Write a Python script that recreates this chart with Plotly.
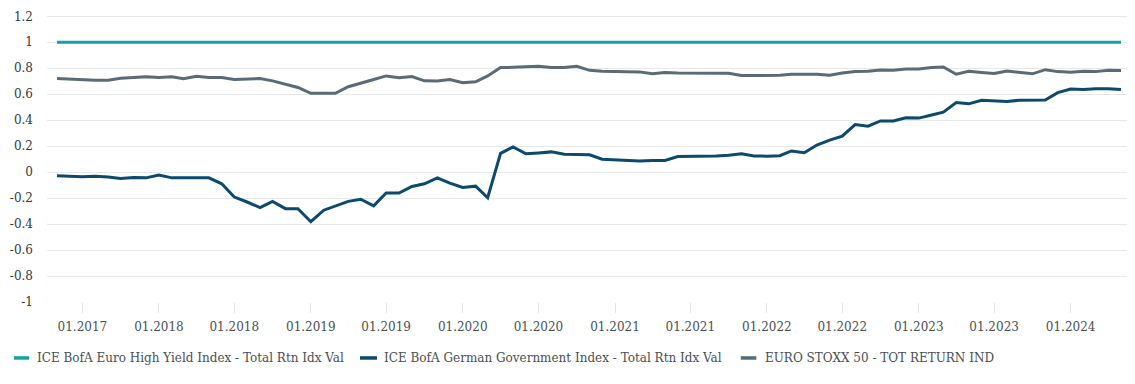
import plotly.graph_objects as go
import pandas as pd

# Monthly observations, May 2017 .. May 2024
dates = pd.date_range("2017-05-01", "2024-05-01", freq="MS")

high_yield = [
    1.0, 1.0, 1.0, 1.0, 1.0, 1.0, 1.0, 1.0, 1.0, 1.0,
    1.0, 1.0, 1.0, 1.0, 1.0, 1.0, 1.0, 1.0, 1.0, 1.0,
    1.0, 1.0, 1.0, 1.0, 1.0, 1.0, 1.0, 1.0, 1.0, 1.0,
    1.0, 1.0, 1.0, 1.0, 1.0, 1.0, 1.0, 1.0, 1.0, 1.0,
    1.0, 1.0, 1.0, 1.0, 1.0, 1.0, 1.0, 1.0, 1.0, 1.0,
    1.0, 1.0, 1.0, 1.0, 1.0, 1.0, 1.0, 1.0, 1.0, 1.0,
    1.0, 1.0, 1.0, 1.0, 1.0, 1.0, 1.0, 1.0, 1.0, 1.0,
    1.0, 1.0, 1.0, 1.0, 1.0, 1.0, 1.0, 1.0, 1.0, 1.0,
    1.0, 1.0, 1.0, 1.0, 1.0,
]

german_gov = [
    -0.027, -0.032, -0.035, -0.032, -0.037, -0.049, -0.042, -0.044, -0.022, -0.044,
    -0.044, -0.044, -0.044, -0.090, -0.192, -0.230, -0.273, -0.225, -0.281, -0.281,
    -0.382, -0.293, -0.263, -0.225, -0.209, -0.260, -0.161, -0.161, -0.110, -0.090,
    -0.045, -0.085, -0.118, -0.108, -0.197, 0.145, 0.194, 0.141, 0.148, 0.156,
    0.138, 0.133, 0.133, 0.100, 0.095, 0.095, 0.085, 0.090, 0.090, 0.120,
    0.120, 0.125, 0.125, 0.130, 0.141, 0.125, 0.123, 0.127, 0.163, 0.150,
    0.209, 0.247, 0.277, 0.366, 0.354, 0.394, 0.394, 0.419, 0.416, 0.440,
    0.462, 0.536, 0.526, 0.554, 0.551, 0.544, 0.554, 0.556, 0.556, 0.612,
    0.640, 0.637, 0.643, 0.643, 0.637,
]

euro_stoxx = [
    0.721, 0.716, 0.711, 0.708, 0.708, 0.723, 0.728, 0.734, 0.728, 0.734,
    0.719, 0.739, 0.728, 0.728, 0.713, 0.719, 0.721, 0.703, 0.678, 0.652,
    0.607, 0.607, 0.607, 0.658, 0.683, 0.713, 0.741, 0.726, 0.736, 0.703,
    0.701, 0.713, 0.688, 0.696, 0.741, 0.805, 0.807, 0.812, 0.815, 0.805,
    0.805, 0.815, 0.784, 0.777, 0.777, 0.777, 0.772, 0.757, 0.767, 0.764,
    0.762, 0.762, 0.762, 0.762, 0.744, 0.744, 0.746, 0.746, 0.754, 0.754,
    0.754, 0.746, 0.764, 0.774, 0.777, 0.787, 0.784, 0.795, 0.795, 0.805,
    0.810, 0.754, 0.777, 0.767, 0.759, 0.779, 0.767, 0.757, 0.789, 0.774,
    0.769, 0.777, 0.774, 0.784, 0.782,
]

series_names = [
    "ICE BofA Euro High Yield Index - Total Rtn Idx Val",
    "ICE BofA German Government Index - Total Rtn Idx Val",
    "EURO STOXX 50 - TOT RETURN IND",
]
series_colors = ["#13a2a3", "#0b4a6c", "#5b6a77"]

tick_dates = [
    "2017-07-01", "2018-01-01", "2018-07-01", "2019-01-01", "2019-07-01",
    "2020-01-01", "2020-07-01", "2021-01-01", "2021-07-01", "2022-01-01",
    "2022-07-01", "2023-01-01", "2023-07-01", "2024-01-01",
]
tick_labels = [
    "01.2017", "01.2018", "01.2018", "01.2019", "01.2019",
    "01.2020", "01.2020", "01.2021", "01.2021", "01.2022",
    "01.2022", "01.2023", "01.2023", "01.2024",
]
y_ticks = [-1, -0.8, -0.6, -0.4, -0.2, 0, 0.2, 0.4, 0.6, 0.8, 1, 1.2]
y_labels = ["-1", "-0.8", "-0.6", "-0.4", "-0.2", "0", "0.2", "0.4", "0.6", "0.8", "1", "1.2"]

FONT = "DejaVu Serif"
TEXT_COL = "#4a4f55"

# legend entry positions (paper coords): symbol start, symbol end, text start
legend_pos = [(-0.0305, -0.0164, -0.0111), (0.2887, 0.3044, 0.3090), (0.6400, 0.6544, 0.6602)]
legend_y = -0.195

fig = go.Figure()
for name, vals, col in zip(series_names, [high_yield, german_gov, euro_stoxx], series_colors):
    fig.add_trace(go.Scatter(
        x=dates, y=vals, name=name, mode="lines",
        line=dict(color=col, width=3),
    ))

for name, col, (s0, s1, tx) in zip(series_names, series_colors, legend_pos):
    fig.add_shape(type="line", xref="paper", yref="paper",
                  x0=s0, x1=s1, y0=legend_y, y1=legend_y,
                  line=dict(color=col, width=3.5))
    fig.add_annotation(xref="paper", yref="paper", x=tx, y=legend_y,
                       xanchor="left", yanchor="middle", showarrow=False,
                       text=name, font=dict(family=FONT, size=12, color=TEXT_COL))

# The page body has an 8px default margin, so the figure is sized/offset to compensate.
fig.update_layout(
    width=1127, height=376,
    margin=dict(l=39, r=4, t=7, b=82, autoexpand=False),
    paper_bgcolor="white", plot_bgcolor="white",
    font=dict(family=FONT, size=12, color=TEXT_COL),
    showlegend=False,
    xaxis=dict(
        type="date",
        range=["2017-04-07", "2024-05-25"],
        tickvals=tick_dates, ticktext=tick_labels,
        showgrid=False, zeroline=False, showline=False,
        ticks="outside", ticklen=10, tickcolor="#e3e5e8", tickwidth=1,
        ticklabelstandoff=4, automargin=False,
        tickfont=dict(family=FONT, size=12, color=TEXT_COL),
    ),
    yaxis=dict(
        range=[-1, 1.21],
        tickvals=y_ticks, ticktext=y_labels,
        showgrid=True, gridcolor="#e6e8eb", gridwidth=1,
        zeroline=False, showline=False, ticks="",
        ticklabelstandoff=13, automargin=False, ticklabeloverflow="allow",
        tickfont=dict(family=FONT, size=12, color="#333a40"),
    ),
)

fig.write_html("out.html")
